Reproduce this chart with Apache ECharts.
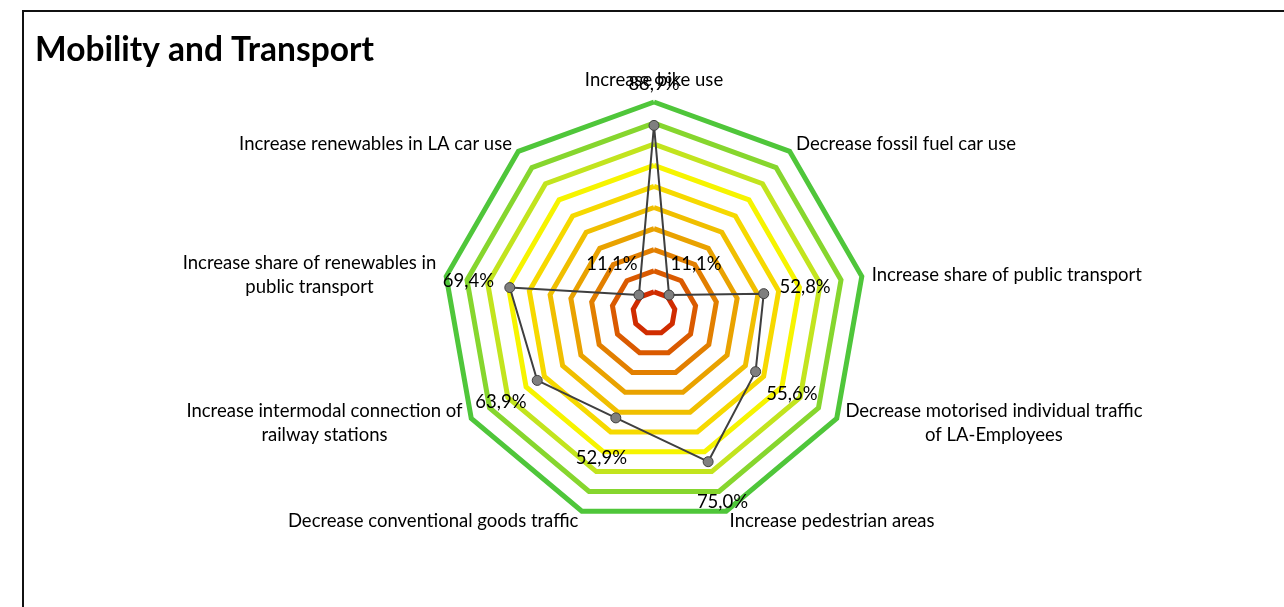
<!DOCTYPE html>
<html>
<head>
<meta charset="utf-8">
<title>Mobility and Transport</title>
<script src="https://cdn.jsdelivr.net/npm/echarts@6/dist/echarts.min.js"></script>
<style>
  html, body { margin: 0; padding: 0; background: #ffffff; }
  #chart { width: 1284px; height: 607px; }
</style>
</head>
<body>
<div id="chart"></div>
<script>
// Measures, clockwise from the top
const categories = [
  'Increase bike use',
  'Decrease fossil fuel car use',
  'Increase share of public transport',
  'Decrease motorised individual traffic\nof LA-Employees',
  'Increase pedestrian areas',
  'Decrease conventional goods traffic',
  'Increase intermodal connection of\nrailway stations',
  'Increase share of renewables in\npublic transport',
  'Increase renewables in LA car use'
];

// Degree of achievement per measure, in percent
const achievement = [88.9, 11.1, 52.8, 55.6, 75.0, 52.9, 63.9, 69.4, 11.1];

// Ring colours, from the 10 % ring out to the 100 % ring
const ringColors = [
  '#d02c00', '#da5a00', '#e27f00', '#e9a200', '#f0bf00',
  '#f6d900', '#f6f400', '#c2e41e', '#86d62e', '#4fc63a'
];

const FONT = 'Lato, "Open Sans", "Liberation Sans", sans-serif';
const CX = 654, CY = 313, R = 211;
const LABEL_OFFSET = 42;

// ECharts lays radar indicators out counter-clockwise; keep the first on top
// and reverse the rest so the measures run clockwise.
const order = [0].concat(categories.map((_, i) => i).slice(1).reverse());
const radarNames = order.map(i => categories[i]);
const radarValues = order.map(i => achievement[i]);

const chart = echarts.init(document.getElementById('chart'), null, { renderer: 'canvas' });

chart.setOption({
  backgroundColor: '#ffffff',
  animation: false,
  graphic: [{
    type: 'rect',
    shape: { x: 23, y: 11, width: 1400, height: 800 },
    style: { fill: 'none', stroke: '#111111', lineWidth: 2 },
    silent: true,
    z: 100
  }],
  title: {
    text: 'Mobility and Transport',
    left: 30,
    top: 28,
    textStyle: { fontFamily: FONT, fontWeight: 'bold', fontSize: 33.5, color: '#000000' }
  },
  radar: {
    center: [CX, CY],
    radius: R,
    startAngle: 90,
    shape: 'polygon',
    splitNumber: 10,
    indicator: radarNames.map(name => ({ name, min: 0, max: 100 })),
    axisName: {
      color: '#000000',
      fontFamily: FONT,
      fontSize: 18.5,
      lineHeight: 24,
      formatter: name => name.split('\n').map(s => '{c|' + s + '}').join('\n'),
      rich: { c: { align: 'center', fontFamily: FONT, fontSize: 18.5, lineHeight: 24, color: '#000000' } }
    },
    nameGap: 10,
    axisLine: { show: false },
    axisTick: { show: false },
    axisLabel: { show: false },
    splitArea: { show: false },
    splitLine: {
      lineStyle: { color: ['rgba(0,0,0,0)'].concat(ringColors), width: 5 }
    }
  },
  series: [{
    type: 'radar',
    symbol: 'circle',
    symbolSize: 10,
    lineStyle: { color: '#3f3f3f', width: 2 },
    itemStyle: { color: '#7f7f7f', borderColor: '#3f3f3f', borderWidth: 1 },
    label: {
      show: true,
      fontFamily: FONT,
      fontSize: 18.5,
      color: '#000000',
      formatter: p => p.value.toFixed(1).replace('.', ',') + '%'
    },
    labelLayout: p => {
      const sx = p.rect.x + p.rect.width / 2;
      const sy = p.rect.y + p.rect.height / 2;
      const dx = sx - CX, dy = sy - CY;
      const len = Math.sqrt(dx * dx + dy * dy) || 1;
      return {
        x: sx + dx / len * LABEL_OFFSET,
        y: sy + dy / len * LABEL_OFFSET + 1,
        align: 'center',
        verticalAlign: 'middle'
      };
    },
    data: [{ value: radarValues, name: 'Mobility and Transport' }]
  }]
});
</script>
</body>
</html>
